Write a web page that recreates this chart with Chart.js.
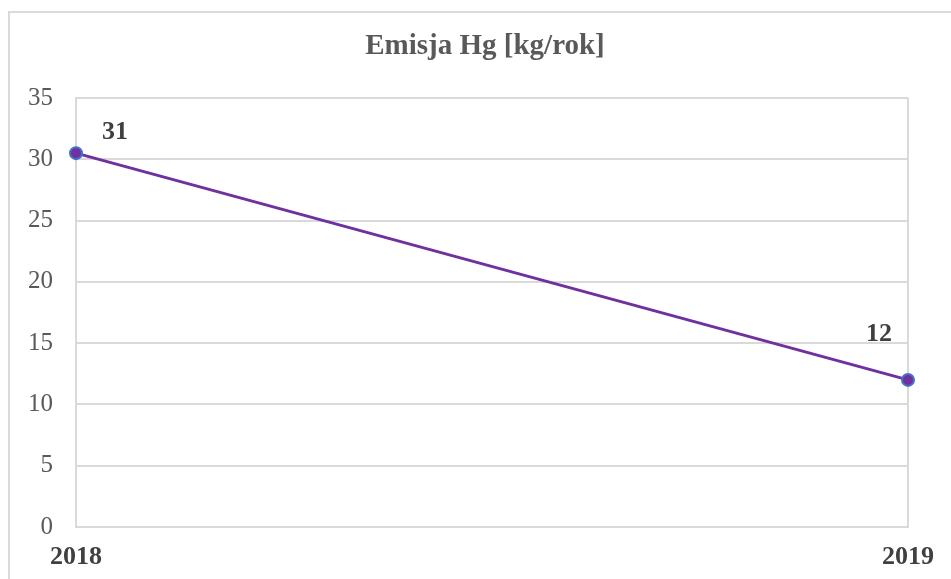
<!DOCTYPE html>
<html>
<head>
<meta charset="utf-8">
<script src="https://cdn.jsdelivr.net/npm/chart.js@4/dist/chart.umd.min.js"></script>
<style>
  html, body { margin: 0; padding: 0; background: #fff; overflow: hidden; }
  #wrap { position: relative; width: 951px; height: 579px; }
  #frame {
    position: absolute; left: 8px; top: 11px; width: 1000px; height: 700px;
    border: 2px solid #d9d9d9; box-sizing: border-box; pointer-events: none;
  }
  canvas { position: absolute; left: 0; top: 0; }
</style>
</head>
<body>
<div id="wrap">
  <canvas id="chart" width="951" height="579"></canvas>
  <div id="frame"></div>
</div>
<script>
// Mercury emission per year
const chartTitle = 'Emisja Hg [kg/rok]';
const years = ['2018', '2019'];
const emission = [30.5, 12];
const yTicks = [0, 5, 10, 15, 20, 25, 30, 35];

const SERIF = '"Liberation Serif", "Times New Roman", serif';

// Title centred on the framed panel, which runs past the right edge of the canvas
const panelTitle = {
  id: 'panelTitle',
  afterDraw(chart) {
    const ctx = chart.ctx;
    ctx.save();
    ctx.font = 'bold 29px ' + SERIF;
    ctx.fillStyle = '#595959';
    ctx.textAlign = 'center';
    ctx.textBaseline = 'middle';
    ctx.fillText(chartTitle, 485, 47);
    ctx.restore();
  }
};

// Value labels beside each point: first one up-right, last one up-left
const pointLabels = {
  id: 'pointLabels',
  afterDatasetsDraw(chart) {
    const ctx = chart.ctx;
    const meta = chart.getDatasetMeta(0);
    const offsets = [[39, -21], [-29, -46]];
    ctx.save();
    ctx.font = 'bold 26px ' + SERIF;
    ctx.fillStyle = '#404040';
    ctx.textAlign = 'center';
    ctx.textBaseline = 'middle';
    meta.data.forEach((pt, i) => {
      const v = chart.data.datasets[0].data[i];
      const [dx, dy] = offsets[i];
      ctx.fillText(String(Math.round(v)), pt.x + dx, pt.y + dy);
    });
    ctx.restore();
  }
};

new Chart(document.getElementById('chart'), {
  type: 'line',
  data: {
    labels: years,
    datasets: [{
      data: emission,
      borderColor: '#7030A0',
      borderWidth: 3,
      backgroundColor: '#7030A0',
      pointBackgroundColor: '#7030A0',
      pointBorderColor: '#4472C4',
      pointBorderWidth: 2,
      pointRadius: 6,
      tension: 0
    }]
  },
  options: {
    responsive: false,
    animation: false,
    layout: { padding: { left: 0, right: 43, top: 98, bottom: 0 } },
    plugins: {
      legend: { display: false },
      tooltip: { enabled: false },
      title: { display: false }
    },
    scales: {
      x: {
        offset: false,
        grid: { color: '#d9d9d9', lineWidth: 2, drawTicks: false },
        border: { color: '#d9d9d9', width: 2 },
        ticks: {
          color: '#404040',
          font: { family: SERIF, size: 26, weight: 'bold' },
          padding: 15,
          maxRotation: 0
        },
        afterFit(scale) { scale.height = 52; }
      },
      y: {
        min: 0,
        max: 35,
        afterBuildTicks(scale) { scale.ticks = yTicks.map(v => ({ value: v })); },
        grid: { color: '#d9d9d9', lineWidth: 2, drawTicks: false },
        border: { color: '#d9d9d9', width: 2 },
        ticks: {
          color: '#595959',
          font: { family: SERIF, size: 25 },
          padding: 23
        },
        afterFit(scale) { scale.width = 76; }
      }
    }
  },
  plugins: [pointLabels, panelTitle]
});
</script>
</body>
</html>
